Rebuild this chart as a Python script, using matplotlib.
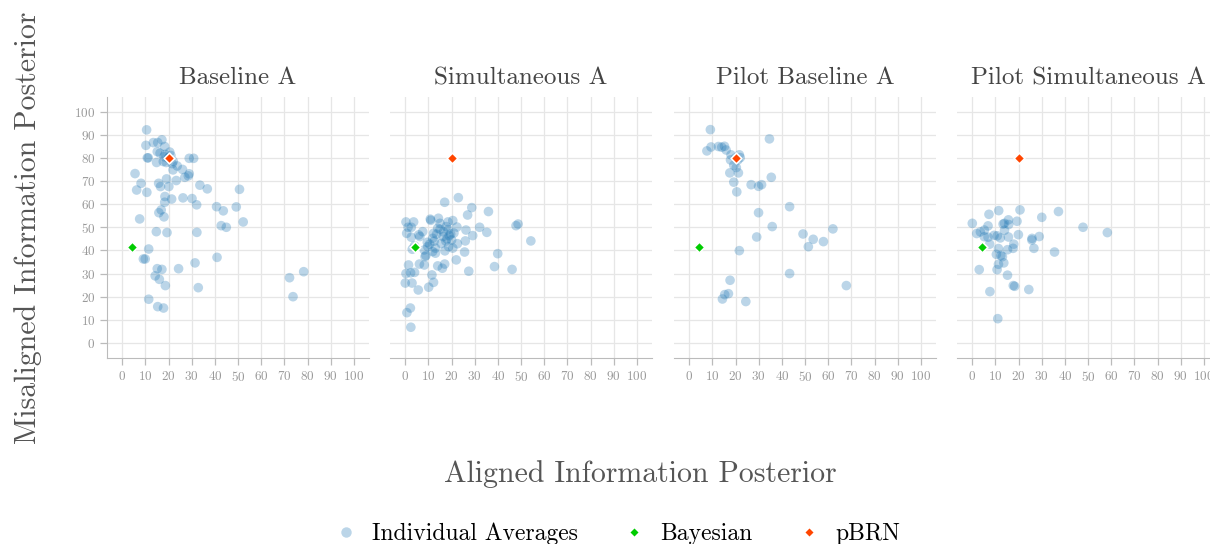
import matplotlib
matplotlib.use("Agg")
import matplotlib.pyplot as plt
from matplotlib.lines import Line2D

plt.rcParams['font.family'] = ['cmr10', 'DejaVu Serif']
plt.rcParams['axes.formatter.use_mathtext'] = True
plt.rcParams['mathtext.fontset'] = 'cm'

titles = ["Baseline A", "Simultaneous A", "Pilot Baseline A", "Pilot Simultaneous A"]
ticks = list(range(0, 101, 10))

# Individual averages per panel (aligned x, misaligned y)
p1_x = [10.5, 10.2, 13.4, 15.3, 17.1, 18.3, 15.1, 16.3, 11.2, 10.8, 19.9, 18.5, 21.0, 22.0, 20.5, 19.0, 21.5,
        18.0, 20.0, 20.0, 14.8, 17.7, 23.7, 21.9, 26.0, 28.9, 30.8, 28.9, 28.5, 27.0, 23.3, 19.1, 5.5, 8.1,
        6.2, 10.6, 15.7, 16.5, 20.1, 33.5, 36.7, 50.6, 18.4, 18.3, 21.3, 26.2, 30.1, 32.1, 40.7, 43.6,
        49.2, 16.8, 15.8, 18.0, 7.5, 42.7, 44.9, 52.2, 14.7, 19.3, 32.2, 11.4, 9.1, 9.9, 40.9, 15.1,
        17.1, 24.3, 31.4, 14.2, 16.0, 18.6, 32.8, 72.2, 78.3, 73.7, 11.4, 15.3, 17.8]
p1_y = [92.1, 85.4, 86.6, 86.6, 87.8, 84.9, 82.7, 82.0, 80.0, 80.0, 79.8, 81.5, 81.0, 78.5, 82.5, 78.0, 77.5,
        80.5, 80.0, 80.0, 78.0, 78.4, 76.5, 74.8, 75.0, 79.8, 79.8, 73.1, 72.2, 71.6, 70.2, 70.9, 73.2, 69.0,
        66.1, 65.1, 69.0, 67.6, 67.6, 68.2, 66.6, 66.4, 63.3, 60.8, 62.2, 62.7, 62.4, 59.7, 58.9, 57.1,
        58.8, 57.5, 56.3, 54.5, 53.6, 50.7, 50.0, 52.3, 48.1, 47.7, 47.8, 40.6, 36.3, 36.3, 37.0, 32.1,
        31.8, 32.1, 34.6, 29.0, 27.5, 24.8, 23.9, 28.2, 30.8, 20.0, 18.9, 15.7, 15.1]

p2_x = [17.0, 22.9, 28.7, 26.9, 35.9, 0.3, 3.6, 1.2, 2.6, 0.6, 2.6, 10.8, 11.0, 14.3, 15.0, 18.4, 20.5, 22.3,
        14.0, 15.0, 17.7, 26.2, 32.1, 35.2, 47.8, 48.7, 54.2, 5.8, 6.3, 7.5, 12.2, 19.0, 19.6, 16.3, 11.8,
        10.5, 9.7, 8.2, 8.9, 8.5, 11.8, 13.0, 18.7, 17.1, 22.5, 25.9, 29.1, 25.6, 39.9, 22.0, 38.5, 46.1,
        27.4, 17.0, 16.0, 14.0, 8.2, 6.1, 1.4, 0.3, 2.3, 4.0, 11.5, 0.0, 2.9, 12.2, 10.1, 5.6, 2.2, 0.7,
        2.4, 4.0, 13.5, 16.5, 18.0, 20.0, 21.0, 12.5, 15.5, 18.5, 9.5, 13.0, 20.5, 17.5, 3.0]
p2_y = [60.8, 62.8, 58.5, 55.3, 56.8, 52.3, 52.3, 50.0, 50.0, 47.4, 45.7, 53.5, 53.0, 53.9, 51.7, 52.3, 52.9, 50.1,
        49.6, 49.1, 50.3, 48.8, 50.0, 47.8, 50.7, 51.4, 44.1, 46.7, 46.0, 48.1, 47.4, 46.4, 47.1, 46.0, 45.2,
        42.7, 41.6, 40.2, 37.8, 37.3, 39.5, 38.8, 41.6, 39.8, 42.9, 44.1, 46.4, 39.3, 38.6, 35.9, 33.0, 31.8,
        31.0, 34.1, 32.3, 33.3, 33.7, 34.1, 33.7, 30.0, 30.3, 30.5, 29.4, 25.9, 25.9, 26.2, 24.1, 22.9, 15.1, 13.1,
        6.8, 42.0, 47.0, 48.0, 45.0, 44.5, 47.5, 44.0, 43.0, 49.0, 43.5, 41.0, 41.0, 44.0, 40.5]

p3_x = [9.1, 34.6, 7.6, 9.4, 12.6, 14.0, 15.2, 15.9, 18.0, 21.6, 22.0, 21.0, 17.8, 20.0, 19.2, 20.3, 17.5,
        21.2, 19.2, 20.5, 26.7, 29.9, 31.2, 35.4, 43.3, 29.9, 35.8, 29.1, 49.1, 53.5, 51.4, 57.9, 62.0,
        21.6, 43.3, 67.8, 17.6, 16.9, 15.3, 14.3, 24.4]
p3_y = [92.2, 88.2, 83.0, 84.7, 84.9, 84.6, 85.0, 83.4, 81.3, 81.3, 80.1, 79.1, 79.1, 80.0, 76.8, 75.8, 73.5,
        73.5, 69.5, 65.3, 68.4, 67.7, 68.4, 71.6, 58.9, 56.3, 50.3, 45.8, 47.1, 44.8, 41.6, 43.8, 49.3,
        39.9, 30.0, 24.8, 27.1, 21.3, 20.9, 19.0, 17.9]

p4_x = [0.0, 1.9, 3.5, 5.2, 6.8, 7.2, 11.4, 20.6, 30.0, 37.2, 13.3, 13.9, 15.7, 15.6, 19.3, 5.2, 6.8, 9.4,
        10.8, 12.1, 13.9, 15.6, 19.9, 25.8, 25.7, 28.9, 26.6, 35.5, 47.8, 58.3, 7.5, 11.3, 15.2, 17.6,
        17.9, 10.4, 12.3, 13.0, 13.6, 11.3, 10.7, 3.0, 15.2, 17.7, 18.3, 24.4, 7.6, 11.0]
p4_y = [51.7, 47.3, 48.0, 48.8, 50.6, 55.6, 57.2, 57.5, 54.3, 56.8, 51.4, 51.7, 51.2, 53.2, 52.6, 45.9, 45.7, 46.5,
        46.3, 45.4, 48.7, 45.8, 46.8, 45.2, 44.5, 46.0, 40.9, 39.3, 50.0, 47.7, 42.7, 40.8, 40.3, 40.9,
        42.7, 38.3, 37.8, 37.3, 34.6, 34.0, 31.7, 31.7, 29.3, 24.8, 24.5, 23.1, 22.2, 10.5]

panel_x = [p1_x, p2_x, p3_x, p4_x]
panel_y = [p1_y, p2_y, p3_y, p4_y]

bayes_x, bayes_y = 4.2, 41.5
pbrn_x, pbrn_y = 20.0, 80.0

blue = '#1f77b4'
green = '#00cc00'
red = '#ff4500'
gridc = '#e6e6e6'
tickc = '#999999'

fig = plt.figure(figsize=(12.1, 5.44), dpi=100)
W, H = 1210.0, 544.0
lefts = [107, 390, 674, 957]
for i in range(4):
    ax = fig.add_axes([lefts[i] / W, (H - 358) / H, 262 / W, 261 / H])
    ax.scatter(panel_x[i], panel_y[i], s=48, color=blue, alpha=0.3, edgecolors='none', zorder=3)
    ax.scatter([bayes_x], [bayes_y], marker='D', s=30, color=green, edgecolors='white', linewidths=1.2, zorder=4)
    ax.scatter([pbrn_x], [pbrn_y], marker='D', s=30, color=red, edgecolors='white', linewidths=1.2, zorder=4)
    ax.set_xlim(-6.6, 106.5)
    ax.set_ylim(-6.5, 106.3)
    ax.set_xticks(ticks)
    ax.set_yticks(ticks)
    ax.grid(True, color=gridc, linewidth=0.9, zorder=0)
    ax.set_axisbelow(True)
    for s in ['top', 'right']:
        ax.spines[s].set_visible(False)
    ax.spines['bottom'].set_color('#bbbbbb')
    ax.spines['left'].set_color('#bbbbbb')
    ax.tick_params(axis='both', colors='#bbbbbb', labelcolor=tickc, labelsize=9.5, length=5, width=0.9)
    if i > 0:
        ax.spines['left'].set_visible(False)
        ax.tick_params(axis='y', left=False, labelleft=False)
    ax.set_title(titles[i], fontsize=18, color='#444444', pad=9)

fig.text(640 / W, 1 - 474 / H, "Aligned Information Posterior", ha='center', va='center', fontsize=21.5, color='#555555')
fig.text(28 / W, 1 - 228 / H, "Misaligned Information Posterior", ha='center', va='center', rotation=90,
         fontsize=21.5, color='#555555')

handles = [
    Line2D([], [], linestyle='none', marker='o', markersize=7.5, color=blue, alpha=0.3, markeredgewidth=0),
    Line2D([], [], linestyle='none', marker='D', markersize=5, color=green, markeredgecolor='white'),
    Line2D([], [], linestyle='none', marker='D', markersize=5, color=red, markeredgecolor='white'),
]
fig.legend(handles, ["Individual Averages", "Bayesian", "pBRN"], loc='center', bbox_to_anchor=(617 / W, 1 - 534 / H),
           ncol=3, frameon=False, fontsize=17, handletextpad=0.6, columnspacing=1.9, handlelength=1.0)

fig.savefig("out.png", dpi=100)
